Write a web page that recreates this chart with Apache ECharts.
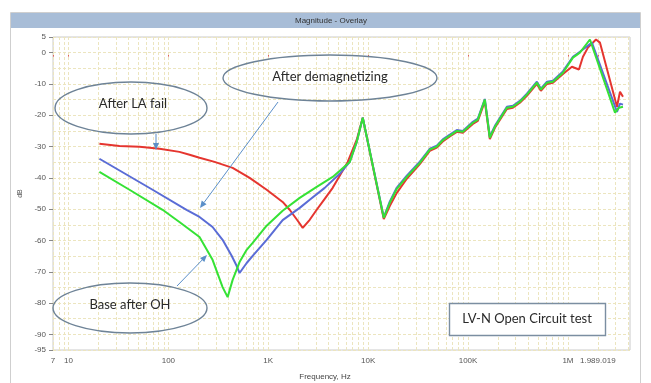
<!DOCTYPE html>
<html><head><meta charset="utf-8">
<style>html,body{margin:0;padding:0;background:#fff}#c{width:651px;height:383px}</style>
<script src="https://cdn.jsdelivr.net/npm/echarts@6.0.0/dist/echarts.min.js"></script>
</head><body><div id="c"></div>
<script>
const xTickValues = [7, 10, 100, 1000, 10000, 100000, 1000000, 1989019];
const xTickLabels = ['7', '10', '100', '1K', '10K', '100K', '1M', '1.989.019'];
const yTickValues = [5, 0, -10, -20, -30, -40, -50, -60, -70, -80, -90, -95];

const redFreq = [20.4, 32.4, 51.4, 81.6, 129, 163, 205, 290, 440, 651, 964, 1393, 1637, 1972, 2213, 2600, 3055, 3673, 4416, 5190, 6247, 7690, 8830, 14330, 16450, 19360, 24370, 32890, 41400, 48650, 55850, 65740, 77240, 88700, 111700, 125300, 147200, 165200, 185700, 244700, 281000, 330400, 388200, 488800, 535800, 616600, 707500, 891300, 1096000, 1288000, 1413000, 1585000, 1908000, 2093000, 3097000, 3319000, 3556000];
const redDb = [-29.1, -29.8, -30.1, -30.7, -31.7, -32.6, -33.6, -34.9, -36.8, -40.0, -43.8, -47.7, -50.2, -53.7, -56.0, -53.4, -50.2, -46.7, -43.2, -39.3, -34.9, -27.8, -20.8, -53.2, -49.0, -44.8, -40.3, -35.6, -31.4, -30.3, -28.4, -26.8, -25.3, -25.6, -22.8, -21.8, -15.6, -27.6, -24.0, -18.0, -17.6, -16.0, -13.8, -10.0, -12.2, -10.0, -9.6, -6.8, -4.5, -5.4, -1.3, 1.6, 4.2, 3.2, -17.3, -12.5, -14.1];

const blueFreq = [20.4, 69.5, 152, 205, 277, 349, 430, 482, 516, 608, 698, 964, 1393, 2065, 2600, 3673, 5190, 6540, 7690, 8830, 14330, 16450, 19360, 24370, 32890, 41400, 48650, 55850, 65740, 77240, 88700, 111700, 125300, 147200, 165200, 185700, 244700, 281000, 330400, 388200, 488800, 535800, 616600, 707500, 891300, 1122000, 1318000, 1738000, 3097000, 3319000, 3556000];
const blueDb = [-33.9, -43.8, -50.2, -52.5, -55.7, -59.8, -64.9, -68.1, -70.4, -67.2, -64.9, -59.8, -53.5, -49.6, -47.0, -43.2, -38.7, -34.9, -28.5, -20.8, -52.6, -47.6, -43.1, -39.3, -34.8, -30.7, -29.7, -27.7, -26.2, -24.7, -25.0, -22.1, -21.1, -14.8, -26.8, -23.4, -17.3, -17.0, -15.4, -13.1, -9.3, -11.5, -9.3, -9.0, -6.0, -1.3, 0.3, 3.2, -18.9, -16.3, -16.6];

const greenFreq = [20.4, 40.8, 87.5, 129, 205, 277, 349, 392, 440, 516, 608, 698, 964, 1393, 2065, 3055, 4416, 6540, 7690, 8830, 14330, 16450, 19360, 24370, 32890, 41400, 48650, 55850, 65740, 77240, 88700, 111700, 125300, 147200, 165200, 185700, 244700, 281000, 330400, 388200, 488800, 535800, 616600, 707500, 891300, 1122000, 1318000, 1660000, 2958000, 3243000, 3556000];
const greenDb = [-38.1, -43.8, -50.2, -54.1, -58.9, -66.2, -74.9, -78.1, -72.6, -66.9, -63.0, -60.8, -55.3, -50.5, -46.4, -42.9, -39.7, -34.9, -28.5, -20.8, -52.8, -48.0, -43.5, -39.7, -35.2, -31.0, -30.0, -28.0, -26.5, -25.0, -25.3, -22.4, -21.4, -15.0, -27.2, -23.7, -17.6, -17.3, -15.7, -13.4, -9.6, -11.8, -9.6, -9.3, -6.4, -1.6, 0.0, 4.2, -19.2, -17.6, -17.3];

const X_MIN = 7, X_MAX = 4.18e6, Y_MIN = -95, Y_MAX = 5;

function pairs(f, d) { return f.map((v, i) => [v, d[i]]); }

const gridX = [];
for (let e = 0; e <= 6; e++) for (let k = 1; k <= 9; k++) {
  const v = k * Math.pow(10, e);
  if (v >= X_MIN && v <= X_MAX) gridX.push(v);
}
const gridY = [];
for (let v = Y_MIN; v <= Y_MAX; v += 5) gridY.push(v);

function xLabel(v) {
  for (let i = 0; i < xTickValues.length; i++) {
    if (Math.abs(Math.log10(v) - Math.log10(xTickValues[i])) < 0.005) return xTickLabels[i];
  }
  return '';
}

const chart = echarts.init(document.getElementById('c'), null, {renderer: 'canvas'});
const axisFont = 'Liberation Sans';
const annFont = '13px Lato';

function arrow(x1, y1, x2, y2, color) {
  const dx = x2 - x1, dy = y2 - y1, L = Math.sqrt(dx * dx + dy * dy);
  const ux = dx / L, uy = dy / L, px = -uy, py = ux;
  const bx = x2 - ux * 7, by = y2 - uy * 7;
  return [
    {type: 'line', z: 20, silent: true, shape: {x1: x1, y1: y1, x2: bx, y2: by}, style: {stroke: color, lineWidth: 1}},
    {type: 'polygon', z: 20, silent: true, shape: {points: [[x2, y2], [bx + px * 3, by + py * 3], [bx - px * 3, by - py * 3]]}, style: {fill: color}}
  ];
}
function txt(x, y, s, font, color) {
  return {type: 'text', z: 21, silent: true, x: x, y: y,
    style: {text: s, font: font, fill: color, textAlign: 'center', textVerticalAlign: 'middle', align: 'center', verticalAlign: 'middle'}};
}
const ellStyle = {fill: 'none', stroke: '#6e8397', lineWidth: 1.4};
const arrowColor = '#5b8fc9';

const graphics = [
  {type: 'rect', z: 0, silent: true, shape: {x: 10.5, y: 12.5, width: 630, height: 372}, style: {fill: 'none', stroke: '#cfcfcf', lineWidth: 1}},
  {type: 'rect', z: 1, silent: true, shape: {x: 11, y: 13, width: 629, height: 15}, style: {fill: '#a8bdd7'}},
  txt(331, 20.5, 'Magnitude - Overlay', '8px "Liberation Sans"', '#333'),
  {type: 'ellipse', z: 20, silent: true, shape: {cx: 131, cy: 108, rx: 76, ry: 26}, style: ellStyle},
  txt(133, 104, 'After LA fail', annFont, '#2a2a2a'),
  {type: 'ellipse', z: 20, silent: true, shape: {cx: 330, cy: 78, rx: 107, ry: 23}, style: ellStyle},
  txt(330, 77, 'After demagnetizing', annFont, '#2a2a2a'),
  {type: 'ellipse', z: 20, silent: true, shape: {cx: 130, cy: 308, rx: 77, ry: 25}, style: ellStyle},
  txt(130, 305, 'Base after OH', annFont, '#2a2a2a'),
  {type: 'rect', z: 20, silent: true, shape: {x: 449.5, y: 303.5, width: 156, height: 32}, style: {fill: '#fff', stroke: '#7b8ea1', lineWidth: 1.4}},
  txt(527, 319, 'LV-N Open Circuit test', annFont, '#2a2a2a'),
  txt(325, 377, 'Frequency, Hz', '8px "Liberation Sans"', '#444')
].concat(arrow(156, 134, 156, 150, arrowColor))
 .concat(arrow(278, 102, 200, 208, arrowColor))
 .concat(arrow(177, 286, 207, 255, arrowColor));

const gridMarkLine = {
  silent: true, z: 1, symbol: ['none', 'none'], animation: false,
  label: {show: false},
  lineStyle: {color: '#ece5bf', type: [3, 2], width: 1},
  emphasis: {disabled: true},
  data: gridX.map(v => ({xAxis: v})).concat(gridY.map(v => ({yAxis: v})))
};

chart.setOption({
  animation: false,
  backgroundColor: '#fff',
  grid: {left: 53, right: 21, top: 37, bottom: 33, show: true, backgroundColor: '#fff', borderColor: '#cacaca', borderWidth: 1, containLabel: false, outerBoundsMode: 'none'},
  xAxis: {
    type: 'log', logBase: 10, min: X_MIN, max: X_MAX,
    axisLine: {show: false},
    splitLine: {show: false},
    axisTick: {show: true, customValues: xTickValues, length: 4, lineStyle: {color: '#e06262'}},
    axisLabel: {customValues: xTickValues, formatter: xLabel, fontSize: 8, color: '#555', fontFamily: axisFont, margin: 7, hideOverlap: false, showMinLabel: true, showMaxLabel: true}
  },
  yAxis: {
    type: 'value', min: Y_MIN, max: Y_MAX,
    name: 'dB', nameLocation: 'middle', nameGap: 15, nameRotate: 90,
    nameTextStyle: {fontSize: 7, color: '#555', fontFamily: axisFont},
    axisLine: {show: false},
    splitLine: {show: false},
    axisTick: {show: true, customValues: yTickValues, length: 4, lineStyle: {color: '#888'}},
    axisLabel: {customValues: yTickValues, fontSize: 8, color: '#555', fontFamily: axisFont, margin: 7, showMinLabel: true, showMaxLabel: true}
  },
  series: [
    {type: 'line', name: 'After LA fail', data: pairs(redFreq, redDb), symbol: 'none', showSymbol: false, z: 2,
     lineStyle: {color: '#e5352f', width: 2}, itemStyle: {color: '#e5352f'}, markLine: gridMarkLine},
    {type: 'line', name: 'After demagnetizing', data: pairs(blueFreq, blueDb), symbol: 'none', showSymbol: false, z: 3,
     lineStyle: {color: '#5a6cd6', width: 2}, itemStyle: {color: '#5a6cd6'}},
    {type: 'line', name: 'Base after OH', data: pairs(greenFreq, greenDb), symbol: 'none', showSymbol: false, z: 4,
     lineStyle: {color: '#35e235', width: 2}, itemStyle: {color: '#35e235'}}
  ],
  graphic: graphics
});
</script>
</body></html>
